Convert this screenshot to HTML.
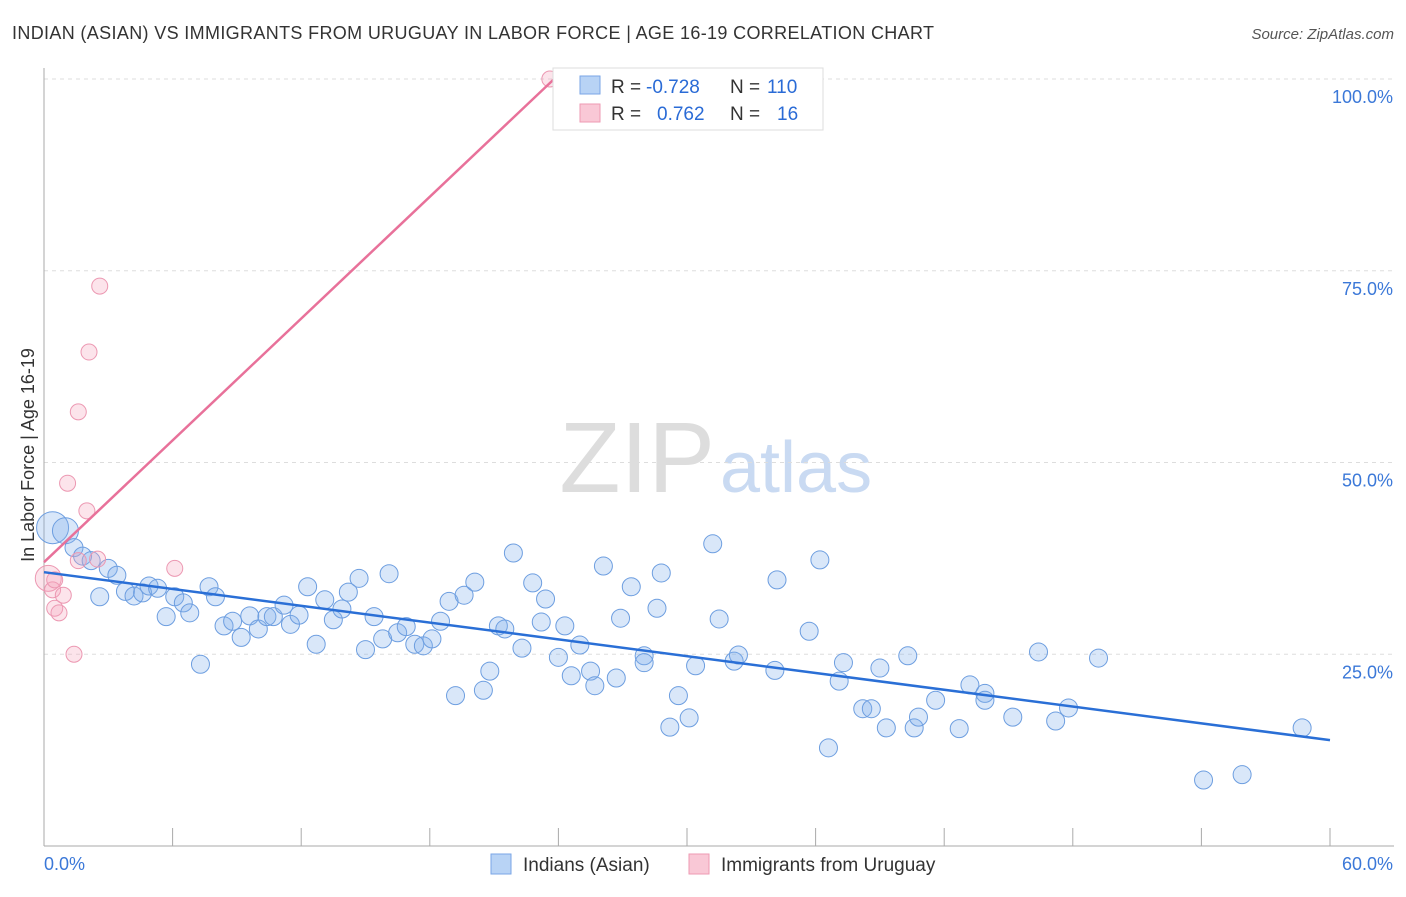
<!DOCTYPE html>
<html><head><meta charset="utf-8"><style>
body{margin:0;background:#fff;font-family:"Liberation Sans",sans-serif;}
svg text{font-family:"Liberation Sans",sans-serif;}
</style></head><body>
<svg id="chart" width="1406" height="892" xmlns="http://www.w3.org/2000/svg">
<text x="12" y="39" font-size="18" fill="#333" textLength="922">INDIAN (ASIAN) VS IMMIGRANTS FROM URUGUAY IN LABOR FORCE | AGE 16-19 CORRELATION CHART</text>
<text x="1394" y="39" font-size="15" fill="#555" text-anchor="end" font-style="italic">Source: ZipAtlas.com</text>
<text x="715" y="492" font-size="100" fill="#ddd" text-anchor="end" font-family="Liberation Serif">ZIP</text>
<text x="720" y="492" font-size="72" fill="#c9daf2">atlas</text>
<g id="grid"></g>
<g id="axes"></g>
<g id="marks"></g>
<text transform="translate(34,455) rotate(-90)" font-size="18" fill="#333" text-anchor="middle">In Labor Force | Age 16-19</text>
<g>
<rect x="553" y="68" width="270" height="62" fill="#fff" stroke="#ddd"/>
<rect x="580" y="76" width="20" height="18" fill="#b8d3f5" stroke="#7aa6e6"/>
<text y="93" font-size="19" fill="#333"><tspan x="611">R =</tspan><tspan x="646" fill="#2a6bd6">-0.728</tspan><tspan x="730">N =</tspan><tspan x="767" fill="#2a6bd6">110</tspan></text>
<rect x="580" y="104" width="20" height="18" fill="#f9c8d6" stroke="#ee9ab3"/>
<text y="120" font-size="19" fill="#333"><tspan x="611">R =</tspan><tspan x="657" fill="#2a6bd6">0.762</tspan><tspan x="730">N =</tspan><tspan x="777" fill="#2a6bd6">16</tspan></text>
</g>
<g>
<rect x="491" y="854" width="20" height="20" fill="#b8d3f5" stroke="#7aa6e6"/>
<text x="523" y="871" font-size="19" fill="#333">Indians (Asian)</text>
<rect x="689" y="854" width="20" height="20" fill="#f9c8d6" stroke="#ee9ab3"/>
<text x="721" y="871" font-size="19" fill="#333">Immigrants from Uruguay</text>
</g>
</svg>
<script>
const blueX=[0.4,1.0,1.4,1.8,2.2,2.6,3.0,3.4,3.8,4.2,4.6,4.9,5.3,5.7,6.1,6.5,6.8,7.3,7.7,8.0,8.4,8.8,9.2,9.6,10.0,10.4,10.7,11.2,11.5,11.9,12.3,12.7,13.1,13.5,13.9,14.2,14.7,15.0,15.4,15.8,16.1,16.5,16.9,17.3,17.7,18.1,18.5,18.9,19.2,19.6,20.1,20.5,20.8,21.2,21.5,21.9,22.3,22.8,23.2,23.4,24.0,24.3,24.6,25.0,25.5,25.7,26.1,26.7,26.9,27.4,28.0,28.0,28.6,28.8,29.2,29.6,30.1,30.4,31.2,31.5,32.2,32.4,34.1,34.2,35.7,36.2,36.6,37.1,37.3,38.2,38.6,39.0,39.3,40.3,40.6,40.8,41.6,42.7,43.2,43.9,43.9,45.2,46.4,47.2,47.8,49.2,54.1,55.9,58.7];
const blueY=[41.5,41.1,38.9,37.8,37.2,32.5,36.2,35.3,33.2,32.6,33.0,33.9,33.6,29.9,32.5,31.7,30.4,23.7,33.8,32.5,28.7,29.3,27.2,30.0,28.3,29.9,29.9,31.4,28.9,30.1,33.8,26.3,32.1,29.5,30.9,33.1,34.9,25.6,29.9,27.0,35.5,27.8,28.6,26.3,26.1,27.0,29.3,31.9,19.6,32.7,34.4,20.3,22.8,28.7,28.3,38.2,25.8,34.3,29.2,32.2,24.6,28.7,22.2,26.2,22.8,20.9,36.5,21.9,29.7,33.8,24.8,23.9,31.0,35.6,15.5,19.6,16.7,23.5,39.4,29.6,24.1,24.9,22.9,34.7,28.0,37.3,12.8,21.5,23.9,17.9,17.9,23.2,15.4,24.8,15.4,16.8,19.0,15.3,21.0,19.9,19.0,16.8,25.3,16.3,18.0,24.5,8.6,9.3,15.4];
const pinkX=[0.2,0.4,0.5,0.7,0.9,1.1,1.4,1.6,2.0,2.5,1.6,2.1,2.6,6.1,23.6,0.5];
const pinkY=[34.9,33.4,31.0,30.4,32.7,47.3,25.0,37.2,43.7,37.4,56.6,64.4,73.0,36.2,100,34.7];
const blueTrend=[35.7,13.8];
const pinkTrend=[37.0,100,23.8];
const yTicks=[25,50,75,100];
const yTickLabels=["25.0%","50.0%","75.0%","100.0%"];
const xTicks=[0,6,12,18,24,30,36,42,48,54,60];

const NS="http://www.w3.org/2000/svg";
const sx=v=>44+v/60*1286;
const sy=v=>846-v/100*767;
function mk(tag,attrs,parent){const e=document.createElementNS(NS,tag);for(const k in attrs)e.setAttribute(k,attrs[k]);parent.appendChild(e);return e;}
const grid=document.getElementById('grid'),axes=document.getElementById('axes'),marks=document.getElementById('marks');
yTicks.forEach((t,i)=>{
 const l=mk('line',{x1:44,x2:1394,y1:sy(t),y2:sy(t),stroke:'#ddd','stroke-dasharray':'4,4'},grid);
 
 
 const tx=mk('text',{x:1393,y:sy(t)+24,'font-size':18,fill:'#3b78d8','text-anchor':'end'},axes);
 tx.textContent=yTickLabels[i];
 
 
});
const ya=mk('line',{x1:44,x2:44,y1:68,y2:846,stroke:'#aaa'},axes);


const xa=mk('line',{x1:44,x2:1394,y1:846,y2:846,stroke:'#aaa'},axes);


xTicks.forEach(t=>{
 const l=mk('line',{x1:sx(t),x2:sx(t),y1:828,y2:846,stroke:'#aaa'},axes);
 
 
});
[[0,"0.0%","start"],[60,"60.0%","end"]].forEach(([v,s,a])=>{
 const tx=mk('text',{x:v===0?44:1393,y:870,'font-size':18,fill:'#3b78d8','text-anchor':a},axes);
 tx.textContent=s;
 
 
});
blueX.forEach((x,i)=>{
 const r=i===0?16:(i===1?13:9);
 const c=mk('circle',{cx:sx(x),cy:sy(blueY[i]),r:r,fill:'rgba(130,175,235,0.3)',stroke:'#6d9ee0','stroke-width':1},marks);
 
 
});
pinkX.forEach((x,i)=>{
 const r=i===0?13:8;
 const c=mk('circle',{cx:sx(x),cy:sy(pinkY[i]),r:r,fill:'rgba(245,165,190,0.3)',stroke:'#ec98b2','stroke-width':1},marks);
 
 
});
const bl=mk('line',{x1:sx(0),y1:sy(blueTrend[0]),x2:sx(60),y2:sy(blueTrend[1]),stroke:'#2a6fd6','stroke-width':2.5},marks);


const pl=mk('line',{x1:sx(0),y1:sy(pinkTrend[0]),x2:sx(pinkTrend[2]),y2:sy(pinkTrend[1]),stroke:'#e8719a','stroke-width':2.5},marks);


</script>
</body></html>
